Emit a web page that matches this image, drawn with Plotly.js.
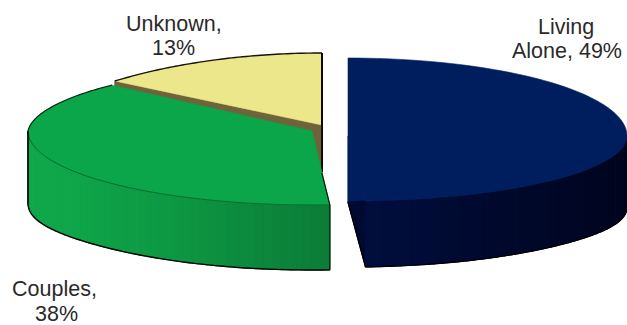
<!DOCTYPE html>
<html>
<head>
<meta charset="utf-8">
<script src="https://cdn.plot.ly/plotly-3.0.1.min.js"></script>
<style>html,body{margin:0;padding:0;background:#fff}#chart{width:627px;height:325px}</style>
</head>
<body>
<div id="chart"></div>
<script>
// Household composition, shares in percent, clockwise from twelve o'clock.
const categories = ['Living Alone', 'Couples', 'Unknown'];
const shares = [49, 38, 13];

// Extruded wedge settings for each slice (plot units).
const wedgeLiving  = {cx: 348, cy: 136, rx: 279, back: 78, front: 65, pow: 1.0, squeeze: 0.0, depth: 66, flare: 5};
const wedgeCouples = {cx: 312, cy: 131, rx: 284, back: 67, front: 74, pow: 1.0, squeeze: 0.05, depth: 65, flare: 7};
const wedgeUnknown = {cx: 322, cy: 125, rx: 290, back: 72, front: 72, pow: 1.3, squeeze: 0.03, depth: 65, flare: 0};

// Cumulative angles derived from the shares.
const total = shares.reduce((a, b) => a + b, 0);
function sliceAngles(i) {
  const before = shares.slice(0, i).reduce((a, b) => a + b, 0);
  return [before / total * 2 * Math.PI, (before + shares[i]) / total * 2 * Math.PI];
}

// Point on the rim of a wedge; a non-zero dz pushes it down the extrusion.
function rim(w, t, dz) {
  const s = Math.sin(t), c = Math.cos(t);
  const yr = c > 0 ? w.back * Math.pow(c, w.pow) : w.front * c;
  const xr = w.rx * s * (c > 0 ? 1 - w.squeeze * c : 1);
  const drop = dz ? dz + w.flare * Math.pow(Math.abs(s), 8) : 0;
  return [w.cx + xr, w.cy - yr + drop];
}
function arc(w, a, b, dz, n) {
  const pts = [];
  for (let k = 0; k <= n; k++) pts.push(rim(w, a + (b - a) * k / n, dz));
  return pts;
}
function mix(c1, c2, f) {
  const v = c1.map((c, i) => Math.round(c + (c2[i] - c) * f));
  return `rgb(${v[0]},${v[1]},${v[2]})`;
}

const traces = [];
function poly(pts, fill, lineColor, lineWidth) {
  traces.push({
    type: 'scatter', mode: 'lines', hoverinfo: 'skip', showlegend: false,
    x: pts.map(p => p[0]), y: pts.map(p => p[1]),
    fill: fill ? 'toself' : 'none', fillcolor: fill || undefined,
    line: {color: lineColor || fill, width: lineWidth === undefined ? 1.2 : lineWidth, simplify: false}
  });
}
function stroke(pts, color, width) { poly(pts, null, color, width); }

// Shaded outer side of a wedge: a run of narrow facets along the front rim.
function sideFacets(w, a, b, stops) {
  const n = 48;
  for (let k = 0; k < n; k++) {
    const t0 = a + (b - a) * k / n, t1 = a + (b - a) * (k + 1) / n;
    const pos = (k + 0.5) / n * (stops.length - 1);
    const idx = Math.min(Math.floor(pos), stops.length - 2);
    const top = arc(w, t0, t1, 0, 2), bot = arc(w, t1, t0, w.depth, 2);
    poly(top.concat(bot, [top[0]]), mix(stops[idx], stops[idx + 1], pos - idx));
  }
}
function topFace(w, a, b, fill) {
  const pts = [[w.cx, w.cy]].concat(arc(w, a, b, 0, 90), [[w.cx, w.cy]]);
  poly(pts, fill, fill, 0.6);
}

const MID_RIGHT = Math.PI / 2, MID_LEFT = Math.PI * 1.5;

// Unknown: brown cut wall first, then the pale top face and its outline.
(function () {
  const w = wedgeUnknown, [a, b] = sliceAngles(2);
  const end = rim(w, a, 0);
  poly([[w.cx, w.cy], end, [end[0], end[1] + w.depth], [w.cx, w.cy + w.depth], [w.cx, w.cy]], '#6f6339');
  topFace(w, a, b, '#ece78b');
  stroke(arc(w, a, b, 0, 60), '#15130a', 1.4);
  stroke([[w.cx, w.cy - w.back], [w.cx, w.cy + 47]], '#0b0a05', 2);
})();

// Couples: shaded side, top face, rim lines.
(function () {
  const w = wedgeCouples, [a, b] = sliceAngles(1);
  sideFacets(w, a, MID_LEFT, [[11, 124, 55], [13, 150, 66], [15, 166, 74], [16, 168, 75]]);
  topFace(w, a, b, '#0ba54a');
  stroke(arc(w, a, MID_LEFT, 0, 60), '#066b2f', 1);
  stroke(arc(w, a, MID_LEFT, w.depth, 60), '#000', 1.4);
  stroke(arc(w, MID_LEFT, b, 0, 60), '#0b2a12', 1.2);
  const right = rim(w, a, 0);
  stroke([[right[0] - 8, right[1] - 32], right, [right[0], right[1] + w.depth]], '#021a0a', 1.2);
  const left = rim(w, MID_LEFT, 0);
  stroke([left, rim(w, MID_LEFT, w.depth)], '#000', 1.6);
})();

// Living Alone: cut wall and side, then the navy top face.
(function () {
  const w = wedgeLiving, [a, b] = sliceAngles(0);
  const end = rim(w, b, 0), base = rim(w, b, w.depth);
  const navy = '#001e5e';
  poly([[w.cx, w.cy], end, [w.cx, w.cy + w.depth], [w.cx, w.cy]], navy);
  poly([[w.cx, w.cy + w.depth], end, base, [w.cx, w.cy + w.depth]], '#000a30');
  sideFacets(w, MID_RIGHT, b, [[0, 4, 28], [0, 6, 34], [0, 9, 44], [0, 14, 62]]);
  topFace(w, a, b, navy);
  stroke(arc(w, MID_RIGHT, b, w.depth, 80), '#000', 1.2);
  stroke([[w.cx, w.cy + w.depth], base], '#000', 1.4);
})();

// Slice captions, one annotation per line.
const captionLines = [
  {text: 'Unknown,',   x: 174, y: 24},
  {text: shares[2] + '%', x: 173, y: 48},
  {text: 'Living',     x: 566, y: 27},
  {text: 'Alone, ' + shares[0] + '%', x: 567, y: 51},
  {text: categories[1] + ',', x: 54, y: 289},
  {text: shares[1] + '%', x: 56, y: 314}
];

Plotly.newPlot('chart', traces, {
  width: 627, height: 325,
  margin: {l: 0, r: 0, t: 0, b: 0},
  paper_bgcolor: '#fff', plot_bgcolor: '#fff',
  showlegend: false,
  xaxis: {range: [0, 627], visible: false, fixedrange: true},
  yaxis: {range: [325, 0], visible: false, fixedrange: true},
  annotations: captionLines.map(l => ({
    text: l.text, x: l.x, y: l.y, xref: 'x', yref: 'y', showarrow: false,
    font: {family: 'Liberation Sans, Arial, sans-serif', size: 21.5, color: '#2a2a2a'}
  }))
}, {staticPlot: true, displayModeBar: false});
</script>
</body>
</html>
